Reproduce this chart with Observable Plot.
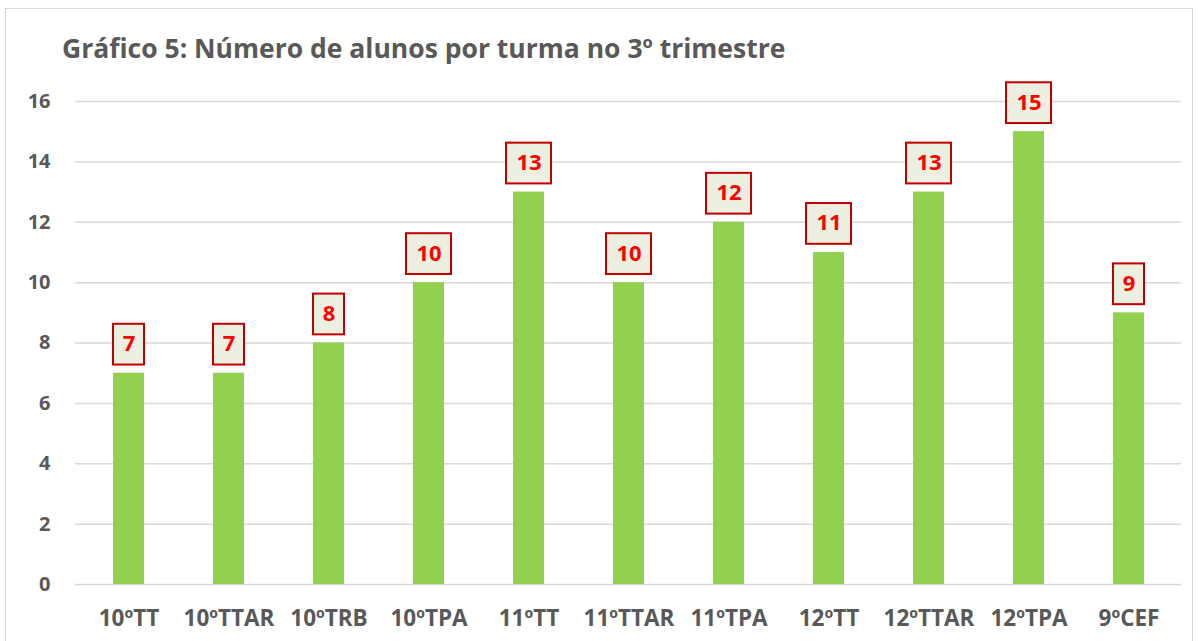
<!DOCTYPE html>
<html>
<head>
<meta charset="utf-8">
<script src="https://cdn.jsdelivr.net/npm/d3@7"></script>
<script src="https://cdn.jsdelivr.net/npm/@observablehq/plot@0.6"></script>
<style>
  html, body { margin: 0; padding: 0; background: #fff; overflow: hidden; }
  #wrap { position: relative; width: 1199px; height: 641px; }
  #frame { position: absolute; left: 5px; top: 8px; width: 1188px; height: 700px; border: 1px solid #D9D9D9; box-sizing: border-box; }
  #title { position: absolute; left: 62px; top: 30px; font-family: "Open Sans", Lato, sans-serif; font-weight: bold; font-size: 26.5px; color: #595959; white-space: nowrap; }
  #chart { position: absolute; left: 0; top: 0; }
</style>
</head>
<body>
<div id="wrap">
  <div id="frame"></div>
  <div id="chart"></div>
  <div id="title">Gráfico 5: Número de alunos por turma no 3º trimestre</div>
</div>
<script>
const turmas = ["10ºTT", "10ºTTAR", "10ºTRB", "10ºTPA", "11ºTT", "11ºTTAR", "11ºTPA", "12ºTT", "12ºTTAR", "12ºTPA", "9ºCEF"];
const alunos = [7, 7, 8, 10, 13, 10, 12, 11, 13, 15, 9];
const yTicks = [0, 2, 4, 6, 8, 10, 12, 14, 16];

const data = turmas.map((t, i) => ({turma: t, n: alunos[i]}));
const oneDigit = data.filter(d => String(d.n).length === 1);
const twoDigit = data.filter(d => String(d.n).length > 1);

const font = "'Open Sans', Lato, sans-serif";
const boxLo = 0.27, boxHi = 1.62;

const plot = Plot.plot({
  width: 1199,
  height: 641,
  marginTop: 101,
  marginBottom: 57,
  marginLeft: 75,
  marginRight: 18,
  style: {fontFamily: font, background: "transparent"},
  x: {domain: turmas, paddingInner: 0.69, paddingOuter: 0.345, label: null},
  y: {domain: [0, 16], label: null},
  marks: [
    Plot.ruleY(yTicks, {stroke: "#D9D9D9", strokeWidth: 1.5}),
    Plot.barY(data, {x: "turma", y: "n", fill: "#92D050"}),
    Plot.rectY(oneDigit, {x: "turma", y1: d => d.n + boxLo, y2: d => d.n + boxHi, fill: "#EDF0E0", stroke: "#C00000", strokeWidth: 2, insetLeft: 0, insetRight: 0}),
    Plot.rectY(twoDigit, {x: "turma", y1: d => d.n + boxLo, y2: d => d.n + boxHi, fill: "#EDF0E0", stroke: "#C00000", strokeWidth: 2, insetLeft: -7, insetRight: -7}),
    Plot.text(data, {x: "turma", y: "n", text: d => String(d.n), dy: -29, fill: "#FF0000", fontSize: 22, fontWeight: "bold"}),
    Plot.axisY(yTicks, {tickSize: 0, tickPadding: 25, fontSize: 20, fontWeight: "bold", fill: "#595959", label: null}),
    Plot.axisX({tickSize: 0, tickPadding: 26, fontSize: 22.5, fontWeight: "bold", fill: "#595959", label: null})
  ]
});
document.getElementById("chart").appendChild(plot);
</script>
</body>
</html>
